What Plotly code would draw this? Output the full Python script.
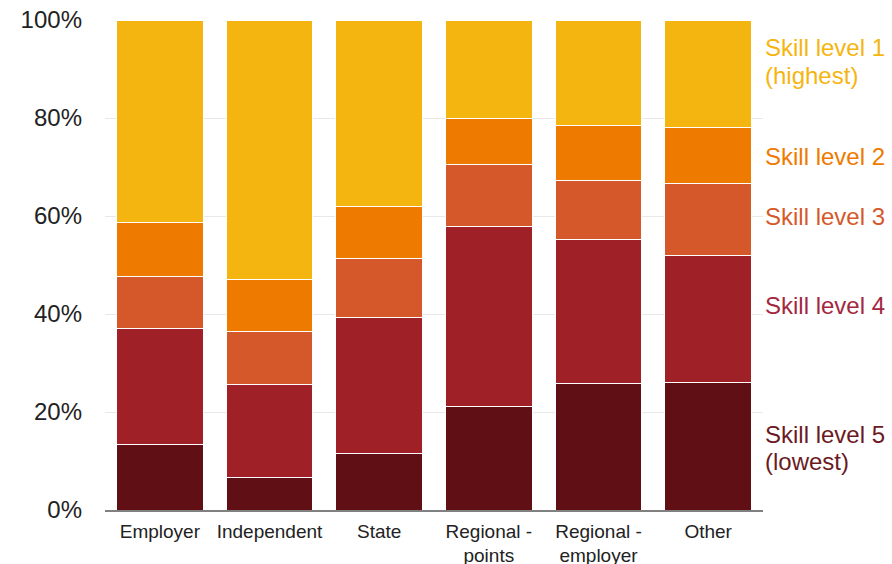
import plotly.graph_objects as go

categories = ["Employer", "Independent", "State", "Regional -<br>points", "Regional -<br>employer", "Other"]

level5 = [13.3, 6.7, 11.6, 21.1, 25.8, 26.0]
level4 = [23.8, 19.0, 27.6, 36.8, 29.5, 25.9]
level3 = [10.5, 10.8, 12.1, 12.6, 11.9, 14.7]
level2 = [11.1, 10.5, 10.6, 9.4, 11.3, 11.5]
level1 = [41.3, 53.0, 38.1, 20.1, 21.5, 21.9]

series_names = ["Skill level 5 (lowest)", "Skill level 4", "Skill level 3", "Skill level 2", "Skill level 1 (highest)"]
series_values = [level5, level4, level3, level2, level1]
bar_colors = ["#601014", "#A02028", "#D5582B", "#EF7A00", "#F5B511"]

y_ticks = [0, 20, 40, 60, 80, 100]
y_tick_labels = ["0%", "20%", "40%", "60%", "80%", "100%"]

# right-hand labels: (text, paper y, colour)
label_lines = [
    ("Skill level 1", 0.943, "#F5B511"),
    ("(highest)", 0.886, "#F5B511"),
    ("Skill level 2", 0.722, "#EF7A00"),
    ("Skill level 3", 0.600, "#D5582B"),
    ("Skill level 4", 0.418, "#A3283F"),
    ("Skill level 5", 0.155, "#6B1A1F"),
    ("(lowest)", 0.098, "#6B1A1F"),
]

FONT = "Liberation Sans, Arial, sans-serif"

fig = go.Figure()
for name, vals, col in zip(series_names, series_values, bar_colors):
    fig.add_trace(go.Bar(
        x=categories, y=vals, name=name,
        marker=dict(color=col, line=dict(color="white", width=1)),
        hoverinfo="x+y+name",
    ))

for text, yp, col in label_lines:
    fig.add_annotation(
        text=text, xref="paper", yref="paper", x=1.0, y=yp,
        xanchor="left", yanchor="middle", showarrow=False,
        font=dict(family=FONT, size=24, color=col),
    )

fig.update_layout(
    barmode="stack",
    bargap=0.207,
    width=892, height=564,
    margin=dict(l=105, r=129, t=20, b=54, autoexpand=False),
    paper_bgcolor="white", plot_bgcolor="white",
    showlegend=False,
    font=dict(family=FONT, color="#222222"),
    xaxis=dict(
        showgrid=False, showline=True, linecolor="#808080", linewidth=1.5,
        ticks="", tickfont=dict(size=19, color="#222222"), automargin=False,
        ticklabelstandoff=3,
    ),
    yaxis=dict(
        range=[0, 100], tickvals=y_ticks, ticktext=y_tick_labels,
        showgrid=True, gridcolor="#E8E8E8", gridwidth=1,
        zeroline=False, showline=False, ticks="",
        tickfont=dict(size=24, color="#222222"),
        ticklabelstandoff=22, automargin=False,
    ),
)

fig.write_html("out.html")
